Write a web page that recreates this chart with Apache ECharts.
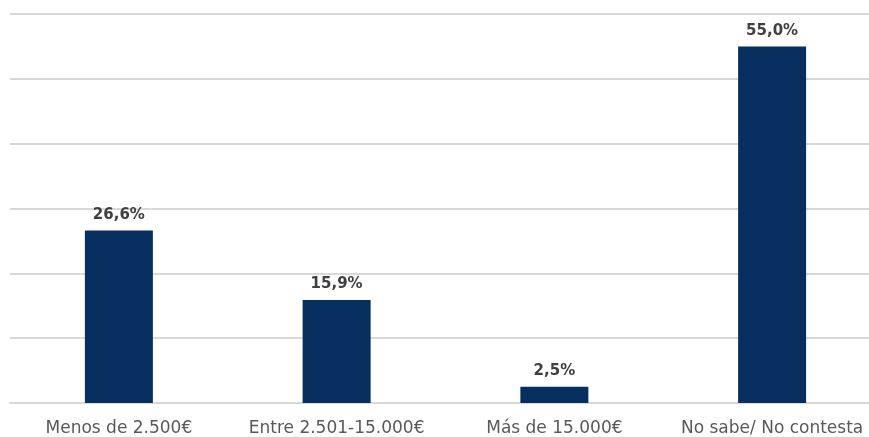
<!DOCTYPE html>
<html>
<head>
<meta charset="utf-8">
<script src="https://cdn.jsdelivr.net/npm/echarts@6/dist/echarts.min.js"></script>
<style>html,body{margin:0;padding:0;background:#fff}#c{width:869px;height:437px}</style>
</head>
<body>
<div id="c"></div>
<script>
const categories = ["Menos de 2.500€", "Entre 2.501-15.000€", "Más de 15.000€", "No sabe/ No contesta"];
const values = [26.6, 15.9, 2.5, 55.0];

const chart = echarts.init(document.getElementById('c'));
chart.setOption({
  animation: false,
  grid: {left: 10, right: -12, top: 14, bottom: 34, containLabel: false, outerBoundsMode: 'none'},
  xAxis: {
    type: 'category',
    data: categories,
    axisLine: {show: true, lineStyle: {color: '#d9d9d9', width: 2}},
    axisTick: {show: false},
    axisLabel: {color: '#595959', fontSize: 17, fontFamily: 'DejaVu Sans', margin: 17, interval: 0}
  },
  yAxis: {
    type: 'value',
    min: 0, max: 60, interval: 10,
    axisLabel: {show: false},
    axisLine: {show: false},
    axisTick: {show: false},
    splitLine: {lineStyle: {color: '#d9d9d9', width: 2}}
  },
  series: [{
    type: 'bar',
    data: values,
    barWidth: 68,
    itemStyle: {color: '#062f5f'},
    label: {
      show: true, position: 'top', distance: 8,
      color: '#404040', fontSize: 15, fontWeight: 'bold', fontFamily: 'DejaVu Sans',
      formatter: p => p.value.toFixed(1).replace('.', ',') + '%'
    }
  }]
});
</script>
</body>
</html>
